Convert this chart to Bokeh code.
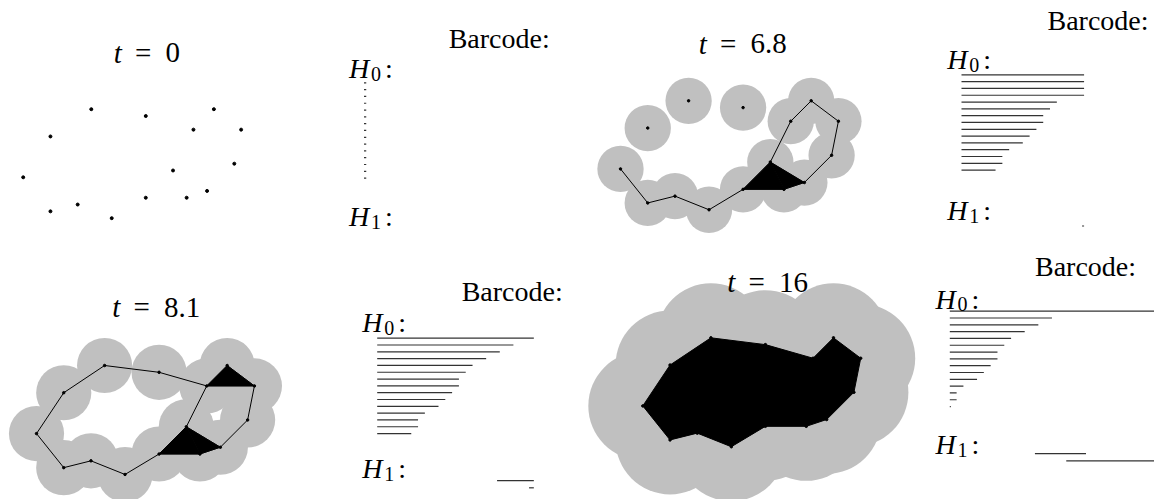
from bokeh.plotting import figure
from bokeh.layouts import column, row
from bokeh.models import Range1d
from bokeh.core.properties import value
from bokeh.embed import file_html
from bokeh.resources import INLINE

# ---------------- data ----------------
names = list("ABCDEFGHIJKLMNO")
pt_x = [10, 18, 28, 25, 32, 4, 0, 31, 22, 27, 24, 18, 8, 4, 13]
pt_y = [0, 1, 0, 3, 3, 4, 10, 8, 9, 12, 13, 13, 14, 15, 16]

t_values = [0, 6.8, 8.1, 16]
t_labels = ["0", "6.8", "8.1", "16"]

edges_68 = ["GN", "NM", "MO", "OL", "LI", "IK", "KL", "IJ", "JK", "ID", "DC", "CE", "EH", "HJ"]
tris_68 = ["LIK", "IKJ"]
edges_81 = ["GF", "FA", "AB", "BD", "DC", "CE", "DE", "EH", "HJ", "DI", "IJ", "IK", "JK",
            "KL", "LI", "LO", "OM", "MN", "NG"]
tris_81 = ["CDE", "LIK", "IKJ"]
hull_16 = "GFABDCEHJKLOMN"

# barcodes (bar lengths in bar units)
h0_bc0 = [0.33] * 15
h0_bc1 = [18, 18, 18, 18, 14, 13, 12, 12, 11, 10, 9, 7, 6, 6, 5]
h0_bc2 = [23, 20, 18, 16, 14, 13, 12, 12, 11, 10, 9, 7, 6, 6, 5]
h0_bc3 = [31, 15, 13, 11, 9, 8, 7, 7, 6, 5, 4, 2, 1, 1, 0.15]
h1_bc0_birth, h1_bc0_death = [], []
h1_bc1_birth, h1_bc1_death = [17.7], [18.0]
h1_bc2_birth, h1_bc2_death = [17.6, 22.3], [23.0, 23.0]
h1_bc3_birth, h1_bc3_death = [12.5, 17.1], [20.0, 31.0]

# ---------------- layout / style ----------------
S = 6.81
FONT = "Liberation Serif"
GREY = "#c0c0c0"
idx = {n: i for i, n in enumerate(names)}


def make_fig(L, T, w, h, ox, oy):
    p = figure(width=w, height=h,
               x_range=Range1d((L - ox) / S, (L + w - ox) / S),
               y_range=Range1d((T + h - oy) / S, (T - oy) / S),
               output_backend="svg", toolbar_location=None, min_border=0,
               x_axis_location=None, y_axis_location=None)
    p.grid.visible = False
    p.outline_line_color = None
    p.background_fill_color = "white"
    p.border_fill_color = "white"
    p._o = (ox, oy)
    return p


def txt(p, X, Y, s, size, style="normal", align="left"):
    ox, oy = p._o
    p.text(x=[(X - ox) / S], y=[(Y - oy) / S], text=[s],
           text_font=value(FONT), text_font_size=size, text_font_style=style,
           text_align=align, text_baseline="alphabetic", text_color="black")


def title(p, X, Y, num):
    txt(p, X, Y, "t", "29px", "italic")
    txt(p, X + 29.5, Y, "=", "29px", "normal", "center")
    txt(p, X + 51.7, Y, num, "29px")


def hlabel(p, X, Y, k):
    txt(p, X, Y, "H", "28px", "italic")
    txt(p, X + 22, Y + 5, str(k), "20px")
    txt(p, X + 36, Y, ":", "28px")


def cloud(p, t, edges, tris, hull=None, dot=2.5):
    if t > 0:
        p.circle(pt_x, pt_y, radius=t / 2, fill_color=GREY, line_color=None)
    if hull:
        p.patch([pt_x[idx[c]] for c in hull], [pt_y[idx[c]] for c in hull],
                fill_color="black", line_color="black", line_width=1)
    if tris:
        p.patches([[pt_x[idx[c]] for c in tr] for tr in tris],
                  [[pt_y[idx[c]] for c in tr] for tr in tris],
                  fill_color="black", line_color="black", line_width=0.6)
    if edges:
        p.multi_line([[pt_x[idx[e[0]]], pt_x[idx[e[1]]]] for e in edges],
                     [[pt_y[idx[e[0]]], pt_y[idx[e[1]]]] for e in edges],
                     line_color="black", line_width=1)
    p.scatter(pt_x, pt_y, size=dot, color="black")


def barcode(p, h0, h1b, h1d, h1_row0):
    n = len(h0)
    p.segment(x0=[0] * n, y0=list(range(n)), x1=h0, y1=list(range(n)),
              line_color="#333333", line_width=1.2)
    if h1b:
        rows = [h1_row0 + 1.07 * j for j in range(len(h1b))]
        p.segment(x0=h1b, y0=rows, x1=h1d, y1=rows, line_color="#333333", line_width=1.2)


# top row
f1 = make_fig(0, 0, 290, 246, 22.7, 108.7)
cloud(f1, t_values[0], [], [], dot=3)
title(f1, 113.3, 52, t_labels[0])

f2 = make_fig(290, 0, 290, 246, 363.5, 82.3)
barcode(f2, h0_bc0, h1_bc0_birth, h1_bc0_death, 22.2)
txt(f2, 498.7, 37.5, "Barcode:", "28px", align="center")
hlabel(f2, 348.5, 68, 0)
hlabel(f2, 348.5, 216, 1)

f3 = make_fig(580, 0, 340, 246, 620, 100.3)
cloud(f3, t_values[1], edges_68, tris_68)
title(f3, 698.3, 43.3, t_labels[1])

f4 = make_fig(920, 0, 234, 246, 961, 74.3)
barcode(f4, h0_bc1, h1_bc1_birth, h1_bc1_death, 22.2)
txt(f4, 1097.5, 20, "Barcode:", "28px", align="center")
hlabel(f4, 946.7, 59, 0)
hlabel(f4, 946.7, 210, 1)

# bottom row
f5 = make_fig(0, 246, 335, 253, 36, 365)
cloud(f5, t_values[2], edges_81, tris_81)
title(f5, 111.7, 306.7, t_labels[2])

f6 = make_fig(335, 246, 245, 253, 376.7, 337.7)
barcode(f6, h0_bc2, h1_bc2_birth, h1_bc2_death, 20.9)
txt(f6, 511.7, 290.7, "Barcode:", "28px", align="center")
hlabel(f6, 361.7, 322, 0)
hlabel(f6, 361.7, 468, 1)

f7 = make_fig(580, 246, 340, 253, 642.3, 337.3)
cloud(f7, t_values[3], [], [], hull=hull_16)
title(f7, 726.7, 281.7, t_labels[3])

f8 = make_fig(920, 246, 234, 253, 949.3, 310.7)
barcode(f8, h0_bc3, h1_bc3_birth, h1_bc3_death, 20.9)
txt(f8, 1085, 266, "Barcode:", "28px", align="center")
hlabel(f8, 935, 298.5, 0)
hlabel(f8, 935, 444, 1)

layout = column(row(f1, f2, f3, f4), row(f5, f6, f7, f8))
open("out.html", "w").write(file_html(layout, INLINE))
